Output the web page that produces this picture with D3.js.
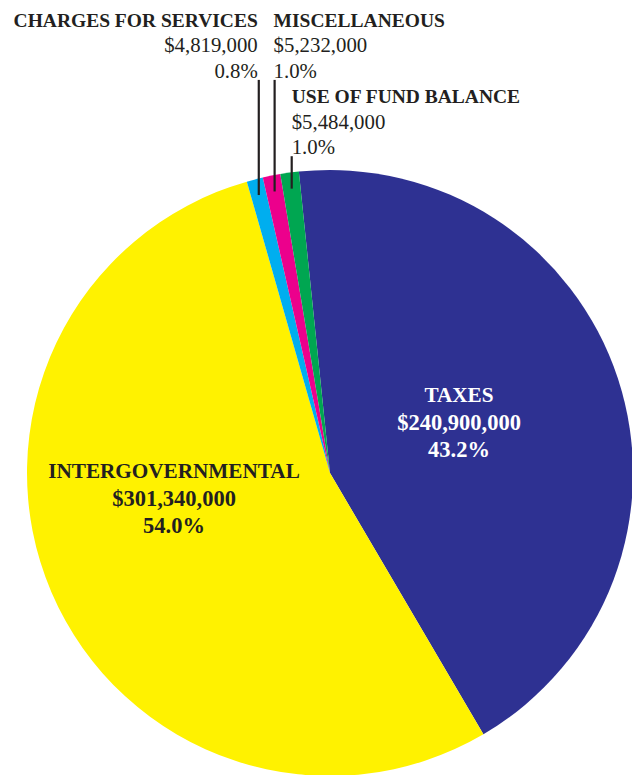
<!DOCTYPE html>
<html>
<head>
<meta charset="utf-8">
<script src="https://cdn.jsdelivr.net/npm/d3@7"></script>
<style>
  html, body { margin: 0; padding: 0; background: #fff; overflow: hidden; }
  svg { display: block; }
  text { font-family: "Liberation Serif", "DejaVu Serif", serif; }
</style>
</head>
<body>
<svg id="chart" width="632" height="775"></svg>
<script>
// revenue sources, in drawing order (clockwise from the top)
const categories = ["TAXES", "INTERGOVERNMENTAL", "CHARGES FOR SERVICES", "MISCELLANEOUS", "USE OF FUND BALANCE"];
const amounts = [240900000, 301340000, 4819000, 5232000, 5484000];
const percentLabels = ["43.2%", "54.0%", "0.8%", "1.0%", "1.0%"];
const sliceColors = ["#2e3192", "#fff200", "#00aeef", "#ec008c", "#00a651"];

const width = 632, height = 775;
const cx = 330, cy = 473, radius = 303;
const ink = "#231f20";
const fmtMoney = d3.format("$,");

const svg = d3.select("#chart");

const data = categories.map((c, i) => ({ name: c, value: amounts[i], pct: percentLabels[i], color: sliceColors[i] }));

const startDeg = -5.9;
const pie = d3.pie()
  .sort(null)
  .value(d => d.value)
  .startAngle(startDeg * Math.PI / 180)
  .endAngle(startDeg * Math.PI / 180 + 2 * Math.PI);

const arc = d3.arc().innerRadius(0).outerRadius(radius);
const arcs = pie(data);

const g = svg.append("g").attr("transform", `translate(${cx},${cy})`);

g.selectAll("path.slice")
  .data(arcs)
  .join("path")
  .attr("class", "slice")
  .attr("d", arc)
  .attr("fill", d => d.data.color);

// big slices: labels inside the pie
const inside = {
  "TAXES": { x: 459, y: 402, fill: "#fff" },
  "INTERGOVERNMENTAL": { x: 174, y: 478, fill: ink }
};
const inLine = 27.5;

arcs.filter(a => inside[a.data.name]).forEach(a => {
  const p = inside[a.data.name];
  const t = svg.append("text")
    .attr("text-anchor", "middle")
    .attr("font-weight", "bold")
    .attr("fill", p.fill);
  [a.data.name, fmtMoney(a.data.value), a.data.pct].forEach((s, i) => {
    t.append("tspan")
      .attr("x", p.x)
      .attr("y", p.y + i * inLine)
      .attr("font-size", i === 0 ? 21.2 : 22.5)
      .text(s);
  });
});

// small slices: labels above the pie with leader lines
const leadR = radius * 0.947;
const outside = {
  "CHARGES FOR SERVICES": { baseY: 26.7, anchor: "end", dx: -1 },
  "MISCELLANEOUS": { baseY: 26.7, anchor: "start", dx: -1 },
  "USE OF FUND BALANCE": { baseY: 103, anchor: "start", dx: 0 }
};
const outLine = 25.6;

arcs.filter(a => outside[a.data.name]).forEach(a => {
  const o = outside[a.data.name];
  const mid = (a.startAngle + a.endAngle) / 2;
  const px = cx + leadR * Math.sin(mid);
  const py = cy - leadR * Math.cos(mid);

  const lines = [a.data.name, fmtMoney(a.data.value), a.data.pct];
  lines.forEach((s, i) => {
    svg.append("text")
      .attr("x", px + o.dx)
      .attr("y", o.baseY + i * outLine)
      .attr("text-anchor", o.anchor)
      .attr("font-weight", i === 0 ? "bold" : "normal")
      .attr("font-size", i === 0 ? 19.5 : 20.8)
      .attr("fill", ink)
      .text(s);
  });

  svg.append("line")
    .attr("x1", px).attr("x2", px)
    .attr("y1", o.baseY + 2 * outLine + 2)
    .attr("y2", py)
    .attr("stroke", ink)
    .attr("stroke-width", 2.2);
});
</script>
</body>
</html>
